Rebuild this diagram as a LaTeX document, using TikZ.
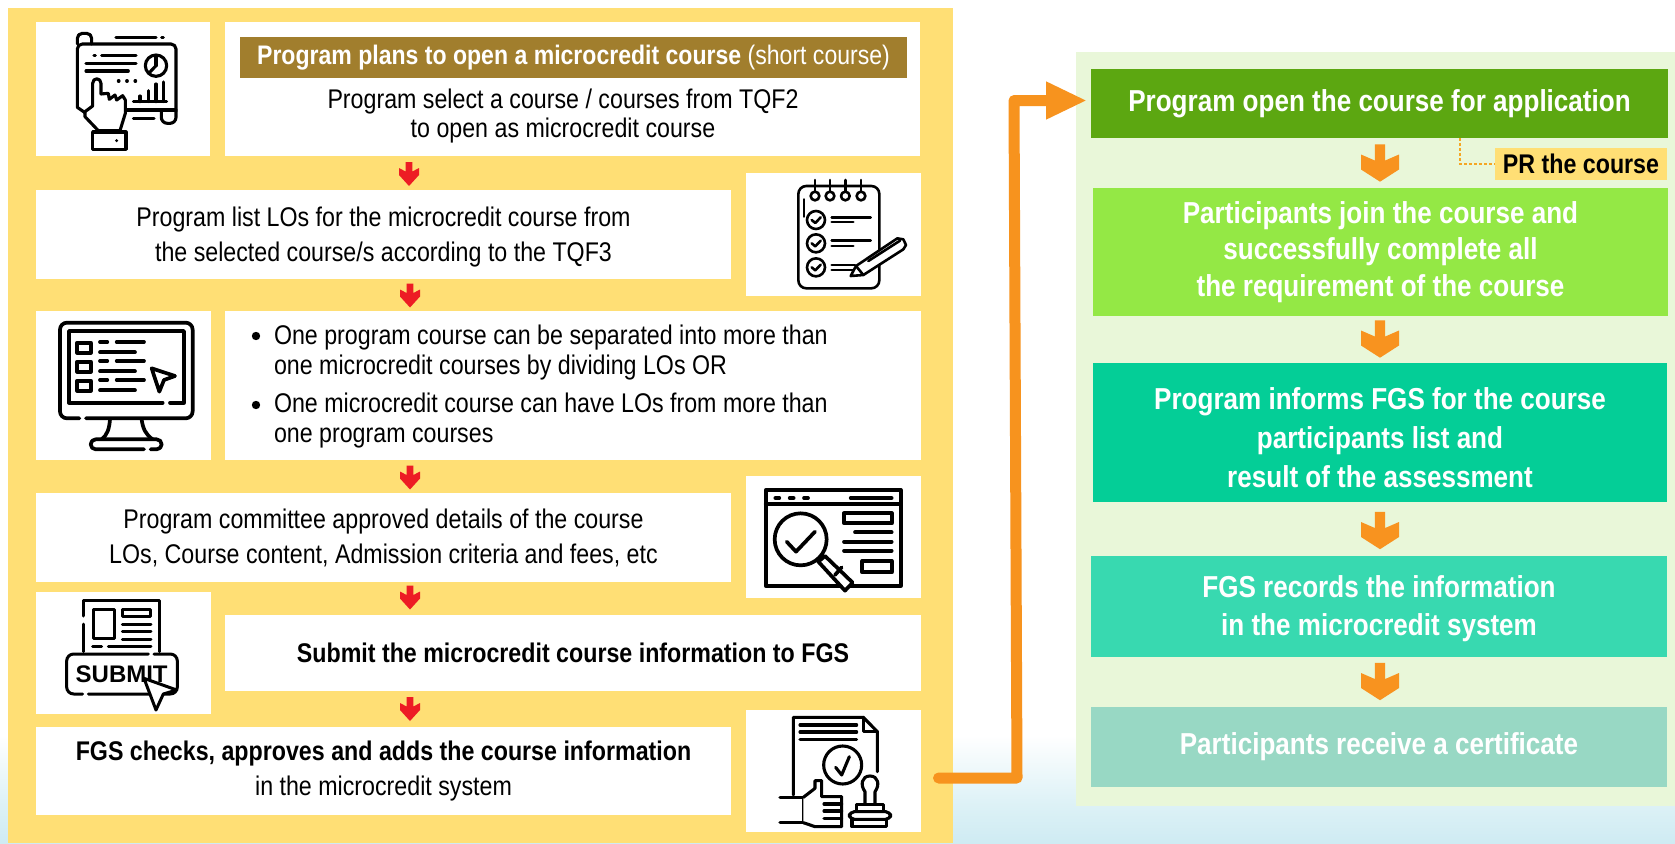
\documentclass[tikz,border=0pt]{standalone}
\usepackage{fontspec}
\setmainfont[FakeStretch=0.86]{Liberation Sans}
\newfontfamily\plainarial{Liberation Sans}
\usetikzlibrary{arrows.meta}
\definecolor{panelY}{HTML}{FFDF75}
\definecolor{panelG}{HTML}{E9F7D9}
\definecolor{barB}{HTML}{A17E2D}
\definecolor{gA}{HTML}{5CA711}
\definecolor{gB}{HTML}{94E845}
\definecolor{gC}{HTML}{04CE97}
\definecolor{gD}{HTML}{38D9B0}
\definecolor{gE}{HTML}{98D8C4}
\definecolor{orangeA}{HTML}{F7931E}
\definecolor{orangeB}{HTML}{F8931F}
\definecolor{redA}{HTML}{ED1C24}
\definecolor{dashO}{HTML}{F5A623}
\definecolor{skyA}{HTML}{DCF1F6}
\definecolor{skyB}{HTML}{CFEBF3}
\tikzset{
  bx/.style={inner sep=0pt,outer sep=0pt,align=center,font=\fontsize{27}{35}\selectfont},
  wbox/.style={bx,fill=white,text=black},
  gbox/.style={bx,text=white,font=\fontsize{30.3}{36.5}\selectfont\bfseries},
  iconline/.style={line width=3.1pt,line cap=round,line join=round,draw=black},
  icon/.style={shift={(#1)},scale=1/3,iconline},
  redarrow/.pic={\fill[redA] (-3.4,-12) -- (3.4,-12) -- (3.4,-2.5) -- (10,-6) -- (10,1) -- (0,12) -- (-10,1) -- (-10,-6) -- (-3.4,-2.5) -- cycle;},
  orangearrow/.pic={\fill[orangeB] (-5.2,-18.7) -- (5.2,-18.7) -- (5.2,-2.5) -- (19,-8.5) -- (19,6.5) -- (0,18.7) -- (-19,6.5) -- (-19,-8.5) -- (-5.2,-2.5) -- cycle;}
}
\newcommand{\bxn}[7][]{\node[#6,#1,minimum width={(#4)-(#2)},minimum height={(#5)-(#3)}] (#7) at ({((#2)+(#4))/2},{((#3)+(#5))/2})}
\begin{document}
\begin{tikzpicture}[x=1pt,y=-1pt]
\useasboundingbox (0,0) rectangle (1675,843);
\fill[white] (0,0) rectangle (1675,843);
\shade[top color=white,bottom color=skyA] (0,735) rectangle (1675,806);
\shade[top color=skyA,bottom color=skyB] (0,806) rectangle (1675,843);
\fill[panelY] (8,8) rectangle (953,843);
\fill[panelG] (1076,52) rectangle (1675,806);
% left column
\bxn{36}{22}{210}{156}{wbox}{i1} {};
\bxn{225}{22}{920}{156}{wbox}{b1} {};
\bxn[font=\fontsize{26.8}{35}\selectfont]{240}{37}{907}{78}{bx,fill=barB,text=white}{bar} {{\bfseries Program plans to open a microcredit course} (short course)};
\node[bx,text=black,font=\fontsize{27}{29}\selectfont] (b1t) at (563,116) {Program select a course / courses from TQF2\\to open as microcredit course};
\bxn{36}{190}{731}{279}{wbox}{b2} {\rule{0pt}{25pt}Program list LOs for the microcredit course from\\the selected course/s according to the TQF3};
\bxn{746}{173}{921}{296}{wbox}{i2} {};
\bxn{36}{311}{211}{460}{wbox}{i3} {};
\bxn{225}{311}{921}{460}{wbox}{b3} {};
\node[bx,text=black,align=left,anchor=north west] (b3a) at (274,325) {One program course can be separated into more than\\[-5.5pt]one microcredit courses by dividing LOs OR};
\node[bx,text=black,align=left,anchor=north west] (b3b) at (274,393) {One microcredit course can have LOs from more than\\[-5pt]one program courses};
\fill (256,336) circle (4.2);
\fill (256,405) circle (4.2);
\bxn{36}{493}{731}{582}{wbox}{b4} {Program committee approved details of the course\\LOs, Course content, Admission criteria and fees, etc};
\bxn{746}{476}{921}{598}{wbox}{i4} {};
\bxn{36}{592}{211}{714}{wbox}{i5} {};
\bxn{225}{615}{921}{691}{wbox}{b5} {\bfseries Submit the microcredit course information to FGS};
\bxn{36}{727}{731}{815}{wbox}{b6} {{\bfseries FGS checks, approves and adds the course information}\\in the microcredit system};
\bxn{746}{710}{921}{832}{wbox}{i6} {};
% red arrows
\pic at (409,174) {redarrow};
\pic at (410,295.5) {redarrow};
\pic at (410,477.5) {redarrow};
\pic at (410,597.5) {redarrow};
\pic at (410,709) {redarrow};
% right column
\bxn{1091}{69}{1668}{138}{gbox,fill=gA}{g1} {Program open the course for application};
\bxn{1093}{188}{1668}{316}{gbox,fill=gB}{g2} {Participants join the course and\\successfully complete all\\the requirement of the course};
\bxn[font=\fontsize{30.3}{39}\selectfont\bfseries]{1093}{363}{1667}{502}{gbox,fill=gC}{g3} {\rule{0pt}{33pt}Program informs FGS for the course\\participants list and\\result of the assessment};
\bxn[font=\fontsize{30.3}{38}\selectfont\bfseries]{1091}{556}{1667}{657}{gbox,fill=gD}{g4} {\rule{0pt}{27pt}FGS records the information\\in the microcredit system};
\bxn{1091}{707}{1667}{787}{gbox,fill=gE}{g5} {Participants receive a certificate};
\bxn{1495}{148}{1667}{180}{bx,fill=panelY,text=black,font=\fontsize{27}{30}\selectfont\bfseries}{pr} {PR the course};
\pic at (1380,163) {orangearrow};
\pic at (1380,339) {orangearrow};
\pic at (1380,530.5) {orangearrow};
\pic at (1380,681.5) {orangearrow};
% dashed callout
\coordinate (prup) at (1460,138);
\coordinate (prk) at (1460,164);
\draw[dashO,line width=1.5pt,dash pattern=on 3pt off 2pt] (prup) -- (prk) -- (pr.west);
% main connector
\coordinate (cstart) at (938.5,778);
\coordinate (cb) at (1017,778);
\coordinate (ct) at (1014,100.5);
\coordinate (ctip) at (1087,100.5);
\draw[orangeA,line width=11pt,line cap=round,line join=round,-{Triangle[length=41pt,width=35pt]}] (cstart) -- (cb) -- (ct) -- (ctip);
% icon 1
\begin{scope}[icon={0,0}]
\draw[rounded corners=5pt] (232,322) -- (232,132) -- (528,132) -- (528,335);
\draw[rounded corners=5pt] (232,132) -- (232,100) -- (275,100) -- (275,132);
\draw (232,322) -- (255,338);
\draw (380,330) -- (528,330);
\draw[rounded corners=6pt] (528,335) -- (528,370) -- (484,370) -- (484,332);
\draw (348,113) -- (468,113);\draw (485,113) -- (490,113);
\draw (282,166) -- (286,166);\draw (305,166) -- (408,166);\draw (258,190) -- (408,190);\draw (258,213) -- (385,213);
\draw (468,197) circle (32);\draw (468,197) -- (468,172);\draw (468,197) -- (450,216);
\foreach \q in {355,380,405}{\draw (\q,243) -- (\q+2,243);}
\draw (400,305) -- (500,305);\draw (420,305) -- (420,288);\draw (445,305) -- (445,272);\draw (468,305) -- (468,252);\draw (490,305) -- (490,246);
\draw (400,355) -- (462,355);
\draw[fill=white] (278,318) -- (278,250) .. controls (278,232) and (303,232) .. (303,250) -- (303,282) -- (325,280) -- (328,298) -- (345,285) -- (350,300) -- (368,287) -- (376,300) -- (376,340) -- (360,392) -- (295,392) -- (255,350) -- (255,335) -- cycle;
\draw[fill=white] (278,396) rectangle (378,448);
\fill (350,422) circle (5);
\end{scope}
% icon 2
\begin{scope}[icon={700,160},line width=2.6pt]
\draw[rounded corners=8pt] (295,78) rectangle (538,385);
\foreach \q in {345,390,436,483}{\draw[fill=white] (\q,108) circle (13);\draw (\q,60) -- (\q,95);}
\draw (312,118) -- (312,170);
\foreach \q in {180,250,322}{\draw[fill=white] (348,\q) circle (27);\draw (335,\q) -- (346,\q+9) -- (362,\q-8);}
\draw (395,172) -- (512,172);\draw (395,186) -- (460,186);
\draw (395,242) -- (512,242);\draw (395,258) -- (460,258);
\draw (395,315) -- (465,315);\draw (395,330) -- (465,330);
\draw[fill=white] (452,348) -- (468,318) -- (592,235) -- (610,238) -- (618,255) -- (610,268) -- (490,345) -- cycle;
\draw (468,318) -- (490,345);\draw (505,303) -- (600,242);
\end{scope}
% icon 3
\begin{scope}[icon={0,0},line width=3.7pt]
\draw[rounded corners=7pt] (238,1255) -- (180,1255) -- (180,968) -- (578,968) -- (578,1255) -- (258,1255);
\draw (488,1208) -- (207,1208) -- (207,993) -- (552,993) -- (552,1208) -- (510,1208);
\foreach \q in {1028,1085,1142}{\draw (232,\q) rectangle (272,\q+30);}
\foreach \q in {1026,1083,1140}{\draw (300,\q) -- (322,\q);\draw (350,\q) -- (432,\q);\draw (300,\q+31) -- (405,\q+31);}
\draw (455,1105) -- (525,1128) -- (492,1140) -- (478,1175) -- cycle;
\draw (330,1258) .. controls (328,1285) and (322,1305) .. (305,1318);
\draw (425,1258) .. controls (428,1285) and (438,1305) .. (458,1318);
\draw[rounded corners=5pt] (432,1348) -- (272,1348) -- (272,1318) -- (485,1318) -- (485,1348) -- (452,1348);
\end{scope}
% icon 4
\begin{scope}[icon={700,460},line width=3.7pt]
\draw (197,90) rectangle (602,378);
\draw (197,132) -- (602,132);
\foreach \q in {232,275,318}{\draw (\q-6,114) -- (\q+6,114);}
\draw (452,114) -- (575,114);
\draw (432,160) rectangle (575,190);
\draw (465,217) -- (575,217);\draw (432,245) -- (575,245);\draw (432,272) -- (575,272);
\draw (487,303) rectangle (575,337);
\draw[fill=white] (375,288) -- (458,368) -- (435,392) -- (355,305) -- cycle;
\draw (405,345) -- (425,322);
\draw[fill=white] (302,238) circle (78);
\draw (260,245) -- (288,275) -- (345,215);
\end{scope}
% icon 5
\begin{scope}[icon={0,460},line width=3pt]
\draw (252,575) -- (252,492);\draw (252,468) -- (252,420) -- (478,420) -- (478,575);
\draw (280,448) rectangle (345,535);
\draw (367,447) rectangle (453,470);
\draw (367,492) -- (453,492);\draw (367,513) -- (453,513);\draw (367,538) -- (453,538);
\draw (278,560) -- (305,560);\draw (325,560) -- (453,560);
\draw[rounded corners=7pt] (445,582) -- (200,582) -- (200,702) -- (248,702);
\draw[rounded corners=7pt] (462,582) -- (532,582) -- (532,702) -- (265,702);
\node[inner sep=0pt,font=\plainarial\fontsize{24}{24}\selectfont\bfseries] (subm) at (365,642) {SUBMIT};
\draw[fill=white] (432,655) -- (530,690) -- (490,702) -- (468,750) -- cycle;
\end{scope}
% icon 6
\begin{scope}[icon={700,460}]
\draw (280,1005) -- (280,772) -- (490,772) -- (532,815) -- (532,935);
\draw (490,772) -- (490,815) -- (532,815);
\draw (300,795) -- (470,795);\draw (300,816) -- (470,816);\draw (300,838) -- (470,838);
\draw (428,915) circle (57);
\draw (407,922) -- (425,945) -- (448,890);
\draw (240,1012) -- (310,1012) -- (310,1088);\draw (240,1088) -- (310,1088);
\draw[fill=white] (310,1012) -- (345,985) -- (345,962) -- (365,962) -- (365,1010) -- (425,1010) -- (425,1100) -- (345,1100) -- (310,1088);
\draw (372,1032) -- (425,1032);\draw (372,1053) -- (425,1053);\draw (372,1076) -- (425,1076);
\draw (495,1032) -- (495,995) .. controls (480,975) and (485,948) .. (510,948) .. controls (535,948) and (540,975) .. (525,995) -- (525,1032);
\draw (470,1052) -- (470,1034) -- (550,1034) -- (550,1052);
\draw[rounded corners=5pt] (448,1055) rectangle (572,1078);
\draw (456,1078) -- (456,1100) -- (560,1100) -- (560,1078);
\end{scope}
\end{tikzpicture}
\end{document}
